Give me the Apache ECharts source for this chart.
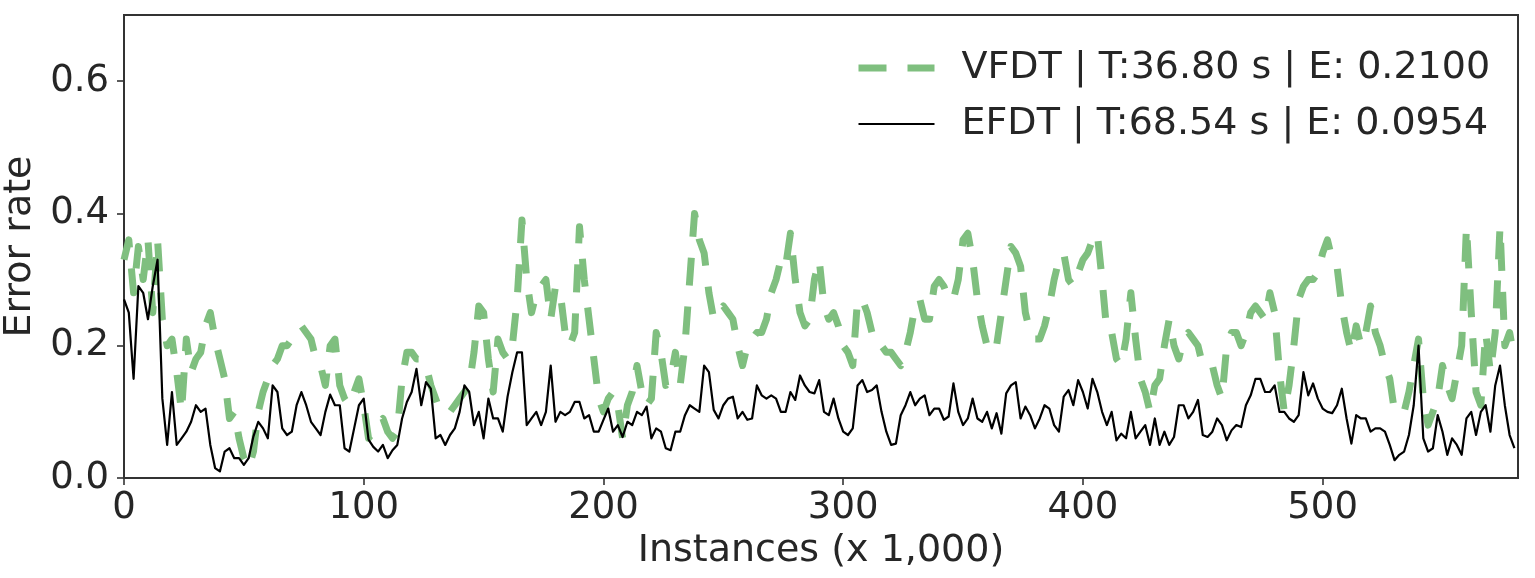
<!DOCTYPE html>
<html>
<head>
<meta charset="utf-8">
<script src="https://cdn.jsdelivr.net/npm/echarts@6/dist/echarts.min.js"></script>
<style>
html,body{margin:0;padding:0;background:#fff;}
#chart{width:1535px;height:578px;}
</style>
</head>
<body>
<div id="chart"></div>
<script>
// Error rate sampled every 2,000 instances (x = 0, 2, 4, ... 580 thousand)
const vfdt = [
0.33,0.36,0.28,0.35,0.30,0.36,0.25,0.36,0.24,0.20,0.21,0.16,0.10,0.21,0.16,0.18,0.19,0.23,0.25,0.21,
0.18,0.15,0.09,0.10,0.06,0.03,0.015,0.04,0.10,0.13,0.15,0.17,0.18,0.20,0.20,0.21,0.22,0.23,0.22,0.21,
0.18,0.17,0.14,0.20,0.21,0.14,0.12,0.11,0.13,0.15,0.11,0.06,
0.07,0.08,0.09,0.07,0.06,0.07,0.15,0.19,0.19,0.18,0.18,0.17,0.14,0.12,0.10,0.10,0.10,0.11,0.12,0.13,
0.14,0.19,0.26,0.25,0.18,0.13,0.21,0.19,0.18,0.20,0.27,0.39,0.30,0.25,0.28,0.29,0.30,0.24,0.29,0.28,
0.22,0.20,0.22,0.38,0.30,0.24,0.18,0.12,0.10,0.12,0.13,0.11,
0.06,0.11,0.13,0.17,0.13,0.11,0.12,0.22,0.19,0.14,0.15,0.19,0.14,0.20,0.30,0.40,0.36,0.34,0.28,0.24,
0.25,0.26,0.25,0.24,0.20,0.17,0.20,0.21,0.22,0.22,0.24,0.28,0.30,0.33,0.32,0.37,0.30,0.25,0.23,0.24,
0.30,0.33,0.26,0.24,0.25,0.23,0.20,0.19,0.17,0.27,
0.27,0.25,0.22,0.20,0.20,0.19,0.19,0.18,0.17,0.19,0.22,0.26,0.27,0.24,0.24,0.29,0.30,0.29,0.27,0.27,
0.30,0.36,0.37,0.33,0.27,0.23,0.20,0.19,0.20,0.25,0.30,0.35,0.34,0.32,0.25,0.22,0.21,0.21,0.23,0.26,
0.30,0.33,0.34,0.30,0.29,0.31,0.33,0.34,0.36,0.37,
0.30,0.22,0.22,0.18,0.17,0.21,0.28,0.21,0.15,0.13,0.10,0.14,0.15,0.20,0.24,0.20,0.18,0.21,0.22,0.21,
0.20,0.17,0.17,0.17,0.14,0.12,0.20,0.22,0.22,0.20,0.22,0.25,0.26,0.25,0.24,0.28,0.25,0.16,0.10,0.14,
0.20,0.27,0.29,0.30,0.30,0.31,0.34,0.36,0.33,0.32,
0.26,0.22,0.19,0.23,0.20,0.22,0.26,0.22,0.20,0.17,0.15,0.10,0.10,0.10,0.13,0.17,0.21,0.12,0.08,0.10,
0.12,0.17,0.14,0.12,0.16,0.20,0.38,0.25,0.13,0.11,0.22,0.16,0.22,0.38,0.20,0.22,0.18
];
const efdt = [
0.27,0.25,0.15,0.29,0.28,0.24,0.29,0.33,0.12,0.05,0.13,0.05,0.06,0.07,0.085,0.11,0.10,0.105,0.05,0.015,
0.01,0.04,0.045,0.03,0.03,0.02,0.03,0.063,0.085,0.075,0.06,0.14,0.13,0.075,0.065,0.07,0.11,0.13,0.11,0.085,
0.075,0.065,0.10,0.126,0.11,0.11,0.045,0.04,0.075,0.11,0.12,0.058,
0.047,0.04,0.05,0.03,0.042,0.05,0.09,0.115,0.13,0.165,0.11,0.145,0.135,0.06,0.065,0.05,0.065,0.075,0.10,0.14,
0.13,0.08,0.10,0.06,0.12,0.09,0.09,0.07,0.123,0.16,0.19,0.19,0.08,0.09,0.10,0.08,0.10,0.17,0.085,0.10,
0.095,0.10,0.115,0.115,0.09,0.095,0.07,0.07,0.088,0.105,0.07,0.08,
0.062,0.085,0.08,0.10,0.095,0.108,0.06,0.075,0.07,0.045,0.042,0.07,0.07,0.095,0.11,0.105,0.10,0.17,0.16,0.103,
0.09,0.11,0.12,0.123,0.09,0.10,0.088,0.09,0.14,0.125,0.12,0.125,0.12,0.10,0.10,0.13,0.118,0.155,0.14,0.13,
0.128,0.148,0.10,0.095,0.12,0.09,0.07,0.065,0.075,0.14,
0.148,0.13,0.133,0.14,0.10,0.07,0.05,0.052,0.095,0.11,0.13,0.11,0.12,0.125,0.095,0.105,0.105,0.088,0.093,0.143,
0.10,0.08,0.09,0.12,0.09,0.085,0.10,0.075,0.098,0.067,0.128,0.14,0.145,0.09,0.108,0.095,0.075,0.09,0.11,0.105,
0.08,0.07,0.123,0.133,0.11,0.148,0.13,0.105,0.15,0.13,
0.10,0.08,0.10,0.057,0.067,0.06,0.10,0.06,0.07,0.08,0.05,0.09,0.05,0.07,0.05,0.062,0.11,0.11,0.09,0.10,
0.118,0.065,0.062,0.07,0.09,0.08,0.057,0.072,0.08,0.077,0.11,0.125,0.15,0.15,0.13,0.13,0.14,0.10,0.10,0.09,
0.085,0.095,0.16,0.125,0.143,0.12,0.105,0.10,0.098,0.11,
0.135,0.09,0.052,0.095,0.09,0.09,0.07,0.075,0.075,0.07,0.05,0.027,0.035,0.04,0.065,0.11,0.20,0.06,0.04,0.045,
0.095,0.07,0.035,0.06,0.05,0.035,0.09,0.10,0.065,0.10,0.11,0.07,0.14,0.17,0.11,0.065,0.045
];
const instances = vfdt.map((_, i) => i * 2);
const xTicks = [0, 100, 200, 300, 400, 500];
const yTicks = [0, 0.2, 0.4, 0.6];
const seriesNames = ['VFDT | T:36.80 s | E: 0.2100', 'EFDT | T:68.54 s | E: 0.0954'];
const xName = 'Instances (x 1,000)';
const yName = 'Error rate';

const FONT = 'DejaVu Sans';
const TXT = '#262626';
const EDGE = '#333333';
const GREEN = '#7fbf7f';

const vfdtLine = {color: GREEN, width: 7, type: [28, 21], cap: 'butt', join: 'round', opacity: 1};
const efdtLine = {color: '#000000', width: 2.2, type: 'solid', join: 'round', opacity: 1};

const chart = echarts.init(document.getElementById('chart'), null, {renderer: 'canvas'});
chart.setOption({
  animation: false,
  backgroundColor: '#ffffff',
  grid: {left: 124, right: 17, top: 15, bottom: 100, containLabel: false, outerBoundsMode: 'none',
    show: true, borderColor: EDGE, borderWidth: 2, backgroundColor: 'transparent'},
  legend: {
    orient: 'vertical', left: 850, top: 44, itemWidth: 76, itemHeight: 14, itemGap: 18,
    textStyle: {fontFamily: FONT, fontSize: 38, color: TXT, lineHeight: 38, padding: [0, 0, 0, 22]},
    data: [
      {name: seriesNames[0], itemStyle: {opacity: 0}, lineStyle: vfdtLine},
      {name: seriesNames[1], itemStyle: {opacity: 0}, lineStyle: efdtLine}
    ]
  },
  xAxis: {
    type: 'value', min: 0, max: 581.5,
    name: xName, nameLocation: 'middle', nameGap: 51,
    nameTextStyle: {fontFamily: FONT, fontSize: 38, color: TXT},
    axisLine: {show: true, lineStyle: {color: EDGE, width: 2}},
    axisTick: {show: true, length: 7, lineStyle: {color: EDGE, width: 1.6}, customValues: xTicks},
    axisLabel: {fontFamily: FONT, fontSize: 37, color: TXT, margin: 12, customValues: xTicks},
    splitLine: {show: false}
  },
  yAxis: {
    type: 'value', min: 0, max: 0.7,
    name: yName, nameLocation: 'middle', nameGap: 72, nameRotate: 90,
    nameTextStyle: {fontFamily: FONT, fontSize: 38, color: TXT},
    axisLine: {show: true, lineStyle: {color: EDGE, width: 2}},
    axisTick: {show: true, length: 7, lineStyle: {color: EDGE, width: 1.6}, customValues: yTicks},
    axisLabel: {fontFamily: FONT, fontSize: 37, color: TXT, margin: 15, customValues: yTicks,
      formatter: v => v.toFixed(1)},
    splitLine: {show: false}
  },
  series: [
    {
      name: seriesNames[0], type: 'line', symbol: 'none', showSymbol: false,
      data: instances.map((x, i) => [x, vfdt[i]]),
      itemStyle: {color: GREEN},
      lineStyle: vfdtLine,
      z: 2
    },
    {
      name: seriesNames[1], type: 'line', symbol: 'none', showSymbol: false,
      data: instances.map((x, i) => [x, efdt[i]]),
      itemStyle: {color: '#000000'},
      lineStyle: efdtLine,
      z: 3
    }
  ]
});
</script>
</body>
</html>
